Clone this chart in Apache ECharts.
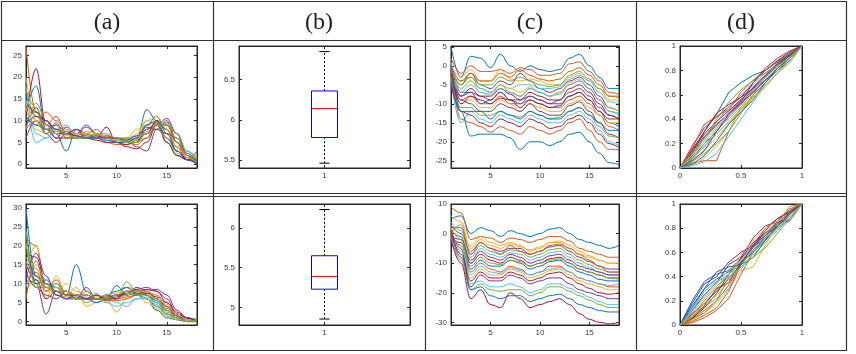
<!DOCTYPE html>
<html>
<head>
<meta charset="utf-8">
<script src="https://cdn.jsdelivr.net/npm/echarts@6/dist/echarts.min.js"></script>
<style>
html, body { margin: 0; padding: 0; background: #fff; }
#chart { width: 856px; height: 354px; }
</style>
</head>
<body>
<div id="chart"></div>
<script>
// x samples
const xSteps = [1, 2, 3, 4, 5, 6, 7, 8, 9, 10, 11, 12, 13, 14, 15, 16, 17, 18];
const xProb = [0, 0.1, 0.2, 0.3, 0.4, 0.5, 0.6, 0.7, 0.8, 0.9, 1];

// column titles
const titles = ['(a)', '(b)', '(c)', '(d)'];

// tick labels
const ticksStep = [5, 10, 15];
const ticksA1 = [0, 5, 10, 15, 20, 25];
const ticksA2 = [0, 5, 10, 15, 20, 25, 30];
const ticksB1 = [5.5, 6, 6.5];
const ticksB2 = [5, 5.5, 6];
const ticksC1 = [-25, -20, -15, -10, -5, 0, 5];
const ticksC2 = [-30, -20, -10, 0, 10];
const ticksProbX = [0, 0.5, 1];
const ticksProbY = [0, 0.2, 0.4, 0.6, 0.8, 1];
const boxCategory = [1];

// boxplot stats: [lower whisker, q1, median, q3, upper whisker]
const boxTop = [5.46, 5.78, 6.14, 6.36, 6.85];
const boxBottom = [4.855, 5.23, 5.39, 5.65, 6.23];

// (a) top row curves
const curvesA1 = [
  [12, 18, 8, 7, 3, 8, 7, 6, 6, 5.5, 5, 6, 12.5, 10, 5, 2, 1, 0.5],
  [27, 12, 9, 11, 7, 6, 7, 8, 6, 6, 5, 4.5, 6, 9, 8, 3, 1, 0.5],
  [20, 10, 8, 7, 7, 6.5, 6, 6, 6, 5.5, 5, 7, 10, 9, 6, 2.5, 1, 1],
  [9, 13, 7, 5, 7, 8, 7, 6, 6.5, 6, 5.5, 4, 3, 8, 10, 5, 1, 0],
  [8, 14, 10, 8, 7, 6, 7, 6.5, 6, 5.5, 6, 5.5, 8, 9.5, 6, 3, 1.5, 1],
  [15, 5, 6, 8, 7, 6, 6.5, 6, 5.5, 5, 5, 5.5, 7, 10, 9.5, 7, 3, 1.5],
  [10, 22, 9, 6, 6, 6, 6, 6, 8.5, 5, 4, 3.5, 5, 9, 5, 2, 1, 3],
  [16, 11, 9, 8, 7, 7, 8.5, 7, 6, 5.5, 5, 5, 9, 10, 6, 3, 1, 0],
  [11, 9, 12, 10, 8, 6, 6, 6, 5, 4.5, 4.5, 5, 6, 9.5, 9, 5, 1.5, 1],
  [13, 8, 7, 8, 6.5, 7, 7, 6.5, 6, 6, 6, 8, 9, 8, 6, 4, 2, 0.5],
  [6, 10, 8, 6, 8.5, 7, 9, 7, 6, 5, 5, 6, 8, 9, 10.5, 7, 2, 0],
  [10, 12, 7, 9, 6, 6, 6, 7, 6, 6, 6, 6.5, 7, 8, 9, 7, 3, 1],
  [18, 7, 6, 8, 9, 6, 6, 6, 6, 5.5, 5.5, 6, 7.5, 9, 8, 5, 3, 0.5],
  [14, 12, 10, 7, 7, 6.5, 6, 5.5, 5, 5, 4.5, 5.5, 7, 10, 8, 4, 1, 1],
  [11, 9, 8, 9, 7.5, 6.5, 6, 6, 5.5, 5, 5, 6, 9, 11, 7, 3, 1, 0],
  [8, 10, 7, 9.5, 6, 7, 6.5, 6, 6.5, 6, 5, 5, 8, 9.5, 9, 5, 2, 1],
  [14, 10, 9, 7, 8, 7, 7.5, 7, 6, 5.5, 5, 5.5, 10, 11, 8, 4, 1.5, 0.5],
  [9, 11, 10, 8, 7, 8, 6, 6.5, 6, 6, 5.5, 6.5, 8.5, 8, 7, 6, 2.5, 0.5],
  [17, 13, 8, 7.5, 7, 6, 6, 7, 7, 6, 5, 5, 7, 9, 9.5, 6, 2, 1]
];

// (a) bottom row curves
const curvesA2 = [
  [30, 12, 9, 8, 7, 15, 8, 6, 6, 6, 8, 7, 6, 4, 2, 1, 0.5, 0],
  [22, 20, 9, 7, 6, 6, 7, 6, 5.5, 6, 7, 8, 7, 5, 2, 1, 0, 0],
  [14, 20, 6, 12, 7, 9, 4, 5, 6, 2.5, 6, 7, 5, 3, 1.5, 0.5, 0.5, 1],
  [12, 10, 2, 8, 8, 7, 6, 7, 6, 7, 7, 8, 8.5, 8, 6, 2, 1, 0],
  [8, 11, 10, 7, 6.5, 6, 8, 6, 7, 6, 10.5, 8, 7, 4, 2, 1, 1, 0.5],
  [16, 12, 8, 10, 7, 6, 6.5, 5, 6, 5, 4, 6, 6, 4.5, 2, 0.5, 0, 0],
  [18, 17, 10, 8, 7, 6, 6, 6, 6.5, 7, 7, 9, 8, 6, 4, 1.5, 0.5, 0],
  [25, 10, 11, 8, 6, 7, 6, 5, 6, 9.5, 7, 7.5, 6, 3, 1, 0.5, 0, 0],
  [10, 13, 8, 9, 7, 7, 6, 7, 5.5, 6, 6.5, 7, 7.5, 7, 4, 2, 1, 0],
  [20, 14, 9, 7, 10, 8, 7, 6, 5, 6, 7, 8, 6, 3.5, 1.5, 0.5, 0.5, 0],
  [13, 9, 7, 6, 8, 6, 9, 6, 6, 7, 8, 8, 8, 8.5, 7, 3, 1, 0],
  [24, 9, 9, 10, 8, 7, 5, 6, 6.5, 7, 9, 8.5, 7, 5, 2.5, 1, 0, 0.5],
  [9, 15, 11, 9, 6, 6, 6, 7.5, 5, 4, 5, 6, 6.5, 5, 3, 1, 0, 0],
  [15, 11, 6, 8, 7, 7, 7, 6, 7, 6, 8, 8, 7.5, 6.5, 5, 2, 1, 0],
  [19, 12, 10, 9, 8, 7, 6, 6, 7, 8, 9, 7.5, 7, 5.5, 3, 1.5, 0.5, 0],
  [6, 16, 8, 11, 7, 6, 6, 6, 6, 5.5, 6, 7, 8, 6, 3.5, 1.5, 0, 0.5],
  [17, 14, 8, 9, 8, 7, 7, 6.5, 7, 7.5, 8, 8, 8, 7, 4.5, 2, 0.5, 0],
  [11, 18, 12, 7, 6, 6.5, 6, 7, 6, 6.5, 7.5, 8.5, 9, 8, 5, 2.5, 1, 0],
  [21, 9, 10, 8, 7, 6, 7, 6, 6, 7, 8, 7, 7, 6, 3, 1, 0, 0.5]
];

// (c) top row curves
const curvesC1 = [
  [5, -3, 2.5, 2, -0.5, 3, 0, -1.5, 0, -1, -1.5, -1, 2, 3, 0, -3, -6, -6],
  [2, -2, 0, -1.5, -1.5, -1, -2, -0.5, -1, -2.5, -2.5, -2, 0.5, 1, -1.5, -4, -7, -7.5],
  [0, -3, -1, -4, -4, -1, -3.5, -4, -3.5, -4, -5, -5, -3, -2, -4, -6, -9, -9],
  [-1, -5, -2, -5, -6, -4, -5, -2, -4, -6, -7, -6, -4, -3, -5, -8, -11, -12],
  [-2, -4, -3, -6, -7, -5, -7, -8, -6, -7, -8, -7, -5, -4, -6, -9, -12, -13],
  [1, -6, -4, -6, -7, -5, -6, -5, -5, -6, -6, -5.5, -3.5, -2.5, -4, -7, -9.5, -10],
  [-2, -8, -6, -8, -8, -6, -7.5, -9, -7, -8, -9, -9, -6, -5, -7, -10, -13, -14],
  [0, -7, -7, -10, -9, -7, -9, -10, -8, -9, -10, -10, -8, -7, -9, -12, -15, -16],
  [-1, -9, -8, -10, -10, -8, -10, -10, -9, -10, -11, -11, -9, -8, -10, -13, -16, -17],
  [-3, -10, -9, -11, -11, -9, -10, -12, -10, -11, -12, -12, -10, -9, -11, -13, -15, -15],
  [-2, -9, -10, -12, -12, -10, -11, -12, -10, -12, -13, -13, -10.5, -9.5, -12, -15, -18, -19],
  [-3, -11, -11, -13, -13, -12, -13, -13.5, -12, -13, -14, -13.5, -12, -11, -13, -16, -18.5, -19],
  [-4, -15, -12, -14, -15, -13, -14, -15, -13, -14, -15, -15, -13, -12, -14, -17, -20, -21],
  [-5, -12, -13, -15, -16, -14, -15, -16, -14, -15, -16.5, -16, -14, -13, -15, -18, -20.5, -21.5],
  [0, -12, -18.5, -18, -18, -18, -19, -22, -20, -20, -21, -20, -18, -17.5, -20, -23, -25.5, -26],
  [-1, -14, -15, -16, -17.5, -16, -17, -18, -16, -17, -18, -17, -15, -14, -17, -20, -22, -22],
  [-2, -6, -4, -7, -8, -5, -6, -7, -5.5, -7, -8, -7, -4.5, -3.5, -6, -9, -11, -12],
  [-1, -8, -7, -8, -9, -7, -9, -9, -8, -9, -10, -9, -7, -6, -8, -11, -13, -14],
  [-1, -5, -3, -5, -5, -3, -4, -3, -4, -5, -5.5, -5, -2.5, -1.5, -3.5, -6, -8, -8.5],
  [-3, -7, -5, -7, -7.5, -6, -7, -8, -6, -7, -8, -7.5, -5, -4, -6, -9, -12, -12.5],
  [-2, -10, -8, -9, -10, -8.5, -9, -11, -9, -10, -11, -10.5, -8, -7, -9, -12, -14, -14],
  [-4, -12, -12, -12, -14, -12, -13, -14, -12, -13, -14, -14, -12, -11, -13, -15, -17, -17],
  [0, -4, -2, -4, -4, -2, -3, -1, -2.5, -3.5, -4, -3.5, -1.5, -0.5, -2.5, -5, -8, -8]
];

// (c) bottom row curves
const curvesC2 = [
  [5, 6, 0, 2, 1, -1, 1, 0, -1, 0, 1.5, 2, 0, -2, -3, -4, -5, -4],
  [9, 7, -2, -1, -1.5, -3, -1.5, -2, -3, -2, -1, -1, -2.5, -5, -6, -7, -8, -8],
  [3, 0, -4, -1, -3, -4, -3, -4, -6, -5, -3, -3, -5, -7, -8, -9, -10, -10],
  [2, 2, -7, -3, -5, -6, -5, -5, -7, -6, -4.5, -4, -6, -8, -9.5, -11, -12, -12],
  [0, 3, -8, -4, -6, -7, -5.5, -6, -8, -7, -5.5, -5, -7, -9, -10.5, -12, -13, -13],
  [4, 1, -10, -5, -7, -8, -6.5, -7, -9, -8, -6.5, -6, -8, -10, -11.5, -13, -14, -14],
  [-2, -3, -10, -7, -9, -10, -8, -9, -11, -10, -8.5, -8, -10, -12, -13, -14, -15, -15],
  [1, -1, -12, -9, -11, -11, -9, -10, -12, -11, -9.5, -9, -11, -13, -14, -15.5, -16, -16],
  [-1, -4, -13, -10, -12, -13, -11, -12, -14, -13, -11, -11, -13, -15, -16, -17, -18, -18],
  [2, -6, -15, -12, -14, -14, -12, -13, -15, -14, -12.5, -12, -14, -16, -17, -18, -19, -19],
  [0, -8, -18, -14, -16, -16, -14, -15, -17, -16, -15, -15, -17, -19, -20, -21, -22, -22],
  [-1, -9, -19, -17, -19, -19.5, -19, -19, -21, -20, -18, -18, -19.5, -21, -22.5, -24, -25, -25],
  [-2, -8, -17, -16, -18, -18, -17, -18, -20, -19, -17, -17, -18.5, -20, -21.5, -23, -24, -24],
  [-2, -10, -22, -19, -24, -25, -20, -22, -25, -24, -23, -22, -24, -27, -29, -30, -30.5, -30],
  [1, -5, -19, -18, -21, -22, -21, -21, -23, -22, -21, -20.5, -22, -24, -25, -26, -26.5, -26.5],
  [3, 0, -6, -3, -5, -7, -4, -6, -7, -6, -4, -3.5, -5, -7, -9, -11, -13, -13],
  [6, 4, -5, -2, -4, -5, -3.5, -4.5, -5.5, -4.5, -3, -2.5, -4, -6, -7.5, -9, -10, -10],
  [-1, -2, -9, -6, -8, -9, -7, -8, -10, -9, -7.5, -7, -9, -11, -12, -13, -14, -14],
  [2, -2, -11, -8, -10, -10.5, -9, -9.5, -11, -10, -9, -8.5, -10, -12, -13, -14, -15, -15.5],
  [0, -5, -14, -11, -13, -13.5, -11.5, -12.5, -14, -13, -12, -11.5, -13, -15, -16, -17, -17.5, -17],
  [1, -7, -16, -13, -15, -15, -13, -14, -16, -15, -13.5, -13, -15, -17, -18.5, -20, -20.5, -20]
];

// (d) top row curves
const curvesD1 = [
  [0, 0.12, 0.3, 0.44, 0.62, 0.7, 0.76, 0.8, 0.88, 0.93, 1],
  [0, 0.04, 0.06, 0.06, 0.3, 0.45, 0.6, 0.75, 0.84, 0.92, 1],
  [0, 0.02, 0.08, 0.18, 0.3, 0.45, 0.58, 0.7, 0.8, 0.9, 1],
  [0, 0.18, 0.33, 0.42, 0.5, 0.58, 0.65, 0.74, 0.84, 0.92, 1],
  [0, 0.05, 0.12, 0.2, 0.3, 0.5, 0.62, 0.72, 0.82, 0.9, 1],
  [0, 0.1, 0.22, 0.38, 0.5, 0.6, 0.68, 0.78, 0.85, 0.93, 1],
  [0, 0.15, 0.3, 0.45, 0.52, 0.58, 0.7, 0.8, 0.88, 0.95, 1],
  [0, 0.08, 0.2, 0.3, 0.42, 0.52, 0.66, 0.76, 0.85, 0.92, 1],
  [0, 0.1, 0.25, 0.35, 0.45, 0.55, 0.63, 0.72, 0.82, 0.9, 1],
  [0, 0.06, 0.15, 0.25, 0.36, 0.48, 0.58, 0.68, 0.78, 0.88, 1],
  [0, 0.12, 0.26, 0.36, 0.44, 0.53, 0.62, 0.72, 0.8, 0.88, 1],
  [0, 0.07, 0.18, 0.28, 0.38, 0.48, 0.6, 0.7, 0.8, 0.91, 1],
  [0, 0.09, 0.17, 0.32, 0.46, 0.56, 0.64, 0.74, 0.86, 0.94, 1],
  [0, 0.14, 0.28, 0.38, 0.47, 0.56, 0.66, 0.76, 0.86, 0.93, 1],
  [0, 0.03, 0.1, 0.22, 0.36, 0.46, 0.56, 0.7, 0.82, 0.9, 1],
  [0, 0.16, 0.36, 0.42, 0.48, 0.62, 0.72, 0.8, 0.87, 0.94, 1],
  [0, 0.11, 0.2, 0.34, 0.4, 0.5, 0.58, 0.66, 0.78, 0.86, 1],
  [0, 0.06, 0.14, 0.3, 0.44, 0.54, 0.7, 0.82, 0.9, 0.96, 1],
  [0, 0.13, 0.24, 0.4, 0.54, 0.64, 0.72, 0.78, 0.84, 0.9, 1],
  [0, 0.02, 0.05, 0.12, 0.26, 0.4, 0.54, 0.68, 0.78, 0.88, 1]
];

// (d) bottom row curves
const curvesD2 = [
  [0, 0.2, 0.36, 0.42, 0.45, 0.55, 0.65, 0.72, 0.8, 0.88, 1],
  [0, 0.05, 0.12, 0.2, 0.33, 0.5, 0.62, 0.72, 0.8, 0.9, 1],
  [0, 0.04, 0.1, 0.18, 0.3, 0.45, 0.48, 0.66, 0.82, 0.92, 1],
  [0, 0.12, 0.25, 0.35, 0.5, 0.56, 0.72, 0.82, 0.85, 0.86, 1],
  [0, 0.08, 0.2, 0.32, 0.42, 0.52, 0.6, 0.72, 0.86, 0.95, 1],
  [0, 0.1, 0.15, 0.22, 0.3, 0.5, 0.62, 0.7, 0.78, 0.9, 1],
  [0, 0.06, 0.14, 0.26, 0.42, 0.55, 0.68, 0.76, 0.84, 0.92, 1],
  [0, 0.16, 0.3, 0.38, 0.44, 0.52, 0.6, 0.7, 0.82, 0.9, 1],
  [0, 0.03, 0.08, 0.14, 0.28, 0.5, 0.66, 0.76, 0.84, 0.9, 1],
  [0, 0.1, 0.22, 0.34, 0.46, 0.53, 0.58, 0.68, 0.8, 0.9, 1],
  [0, 0.09, 0.18, 0.28, 0.38, 0.5, 0.66, 0.8, 0.88, 0.93, 1],
  [0, 0.07, 0.16, 0.3, 0.42, 0.5, 0.62, 0.74, 0.84, 0.98, 1],
  [0, 0.11, 0.24, 0.36, 0.42, 0.54, 0.64, 0.76, 0.86, 0.92, 1],
  [0, 0.05, 0.16, 0.3, 0.35, 0.52, 0.64, 0.78, 0.88, 0.94, 1],
  [0, 0.14, 0.3, 0.44, 0.48, 0.5, 0.56, 0.7, 0.84, 0.93, 1],
  [0, 0.02, 0.06, 0.12, 0.22, 0.42, 0.6, 0.74, 0.86, 0.96, 1],
  [0, 0.08, 0.18, 0.24, 0.36, 0.58, 0.7, 0.8, 0.86, 0.9, 1],
  [0, 0.18, 0.34, 0.4, 0.52, 0.6, 0.66, 0.74, 0.82, 0.92, 1],
  [0, 0.05, 0.1, 0.2, 0.4, 0.48, 0.56, 0.64, 0.76, 0.88, 1],
  [0, 0.12, 0.28, 0.36, 0.4, 0.46, 0.6, 0.72, 0.8, 0.86, 1]
];

const matlabColors = ['#0072BD', '#D95319', '#EDB120', '#7E2F8E', '#77AC30', '#4DBEEE', '#A2142F'];
const axisColor = '#262626';

// panel layout, row by row
const panels = [
  { grid: { left: 26, top: 46, width: 171, height: 122 }, x: [1, 18], xt: ticksStep, y: [-0.9, 27.2], yt: ticksA1 },
  { grid: { left: 239, top: 46, width: 171, height: 122 }, x: [0.5, 1.5], xt: boxCategory, y: [5.40, 6.92], yt: ticksB1 },
  { grid: { left: 451, top: 46, width: 168, height: 122 }, x: [1, 18], xt: ticksStep, y: [-26.9, 5.2], yt: ticksC1 },
  { grid: { left: 680, top: 46, width: 122, height: 122 }, x: [0, 1], xt: ticksProbX, y: [0, 1], yt: ticksProbY },
  { grid: { left: 26, top: 204, width: 171, height: 121 }, x: [1, 18], xt: ticksStep, y: [-0.9, 31], yt: ticksA2 },
  { grid: { left: 239, top: 204, width: 171, height: 121 }, x: [0.5, 1.5], xt: boxCategory, y: [4.78, 6.30], yt: ticksB2 },
  { grid: { left: 451, top: 204, width: 168, height: 121 }, x: [1, 18], xt: ticksStep, y: [-30.9, 10], yt: ticksC2 },
  { grid: { left: 680, top: 204, width: 122, height: 121 }, x: [0, 1], xt: ticksProbX, y: [0, 1], yt: ticksProbY }
];

function makeAxis(i, range, ticks, position, withLabels) {
  return {
    type: 'value',
    gridIndex: i,
    position: position,
    min: range[0],
    max: range[1],
    axisLine: { show: true, onZero: false, lineStyle: { color: axisColor, width: 1 } },
    axisTick: { show: true, inside: true, length: 3, customValues: ticks, lineStyle: { color: axisColor } },
    axisLabel: {
      show: withLabels,
      customValues: ticks,
      margin: 4,
      color: '#404040',
      fontSize: 8,
      fontFamily: 'Liberation Sans, Arial, sans-serif',
      showMinLabel: true,
      showMaxLabel: true
    },
    splitLine: { show: false }
  };
}

const grids = panels.map(p => Object.assign({ show: true, borderColor: axisColor, borderWidth: 1, backgroundColor: '#fff' }, p.grid));
const xAxes = panels.map((p, i) => makeAxis(i, p.x, p.xt, 'bottom', true))
  .concat(panels.map((p, i) => makeAxis(i, p.x, p.xt, 'top', false)));
const yAxes = panels.map((p, i) => makeAxis(i, p.y, p.yt, 'left', true))
  .concat(panels.map((p, i) => makeAxis(i, p.y, p.yt, 'right', false)));

function curveSeries(curves, xs, idx, smooth) {
  return curves.map((ys, k) => ({
    type: 'line',
    xAxisIndex: idx,
    yAxisIndex: idx,
    data: ys.map((y, j) => [xs[j], y]),
    smooth: smooth,
    smoothMonotone: 'x',
    showSymbol: false,
    symbol: 'none',
    silent: true,
    lineStyle: { width: 1, color: matlabColors[k % matlabColors.length] }
  }));
}

function renderBox(params, api) {
  const x = api.value(0);
  const lo = api.coord([x, api.value(1)]);
  const q1 = api.coord([x, api.value(2)]);
  const med = api.coord([x, api.value(3)]);
  const q3 = api.coord([x, api.value(4)]);
  const hi = api.coord([x, api.value(5)]);
  const cx = lo[0];
  const hw = api.size([0.076, 0])[0];
  const cw = api.size([0.03, 0])[0];
  const dash = { stroke: '#000', lineWidth: 1, lineDash: [2, 2] };
  const solid = { stroke: '#000', lineWidth: 1 };
  return {
    type: 'group',
    children: [
      { type: 'line', shape: { x1: cx, y1: q3[1], x2: cx, y2: hi[1] }, style: dash },
      { type: 'line', shape: { x1: cx, y1: lo[1], x2: cx, y2: q1[1] }, style: dash },
      { type: 'line', shape: { x1: cx - cw, y1: hi[1], x2: cx + cw, y2: hi[1] }, style: solid },
      { type: 'line', shape: { x1: cx - cw, y1: lo[1], x2: cx + cw, y2: lo[1] }, style: solid },
      { type: 'rect', shape: { x: cx - hw, y: q3[1], width: 2 * hw, height: q1[1] - q3[1] },
        style: { fill: 'none', stroke: '#0000FF', lineWidth: 1 } },
      { type: 'line', shape: { x1: cx - hw, y1: med[1], x2: cx + hw, y2: med[1] },
        style: { stroke: '#FF0000', lineWidth: 1 } }
    ]
  };
}

function boxSeries(stats, idx) {
  return {
    type: 'custom',
    xAxisIndex: idx,
    yAxisIndex: idx,
    silent: true,
    renderItem: renderBox,
    encode: { x: 0, y: [1, 2, 3, 4, 5] },
    data: [[boxCategory[0]].concat(stats)]
  };
}

const series = [].concat(
  curveSeries(curvesA1, xSteps, 0, 0.4),
  [boxSeries(boxTop, 1)],
  curveSeries(curvesC1, xSteps, 2, 0.4),
  curveSeries(curvesD1, xProb, 3, false),
  curveSeries(curvesA2, xSteps, 4, 0.4),
  [boxSeries(boxBottom, 5)],
  curveSeries(curvesC2, xSteps, 6, 0.4),
  curveSeries(curvesD2, xProb, 7, false)
);

// table frame
const frameColor = '#333';
const colCenters = [107, 319, 530, 741];
const graphic = [
  { type: 'rect', shape: { x: 1.5, y: 1.5, width: 845, height: 349 }, style: { fill: 'none', stroke: frameColor, lineWidth: 1.2 }, z: 100 },
  { type: 'line', shape: { x1: 1.5, y1: 40.5, x2: 846.5, y2: 40.5 }, style: { stroke: frameColor, lineWidth: 1.2 }, z: 100 },
  { type: 'line', shape: { x1: 1.5, y1: 193.5, x2: 846.5, y2: 193.5 }, style: { stroke: frameColor, lineWidth: 1.2 }, z: 100 },
  { type: 'line', shape: { x1: 1.5, y1: 196.5, x2: 846.5, y2: 196.5 }, style: { stroke: frameColor, lineWidth: 1.2 }, z: 100 },
  { type: 'line', shape: { x1: 213.5, y1: 1.5, x2: 213.5, y2: 350.5 }, style: { stroke: frameColor, lineWidth: 1.2 }, z: 100 },
  { type: 'line', shape: { x1: 425.5, y1: 1.5, x2: 425.5, y2: 350.5 }, style: { stroke: frameColor, lineWidth: 1.2 }, z: 100 },
  { type: 'line', shape: { x1: 636.5, y1: 1.5, x2: 636.5, y2: 350.5 }, style: { stroke: frameColor, lineWidth: 1.2 }, z: 100 }
].concat(titles.map((t, i) => ({
  type: 'text',
  x: colCenters[i],
  y: 23,
  z: 100,
  style: {
    text: t,
    font: '24px "Liberation Serif", "DejaVu Serif", serif',
    fill: '#222',
    align: 'center',
    verticalAlign: 'middle',
    textAlign: 'center',
    textVerticalAlign: 'middle'
  }
})));

const chart = echarts.init(document.getElementById('chart'), null, { renderer: 'canvas' });
chart.setOption({
  animation: false,
  backgroundColor: '#fff',
  grid: grids,
  xAxis: xAxes,
  yAxis: yAxes,
  series: series,
  graphic: graphic
});
</script>
</body>
</html>
